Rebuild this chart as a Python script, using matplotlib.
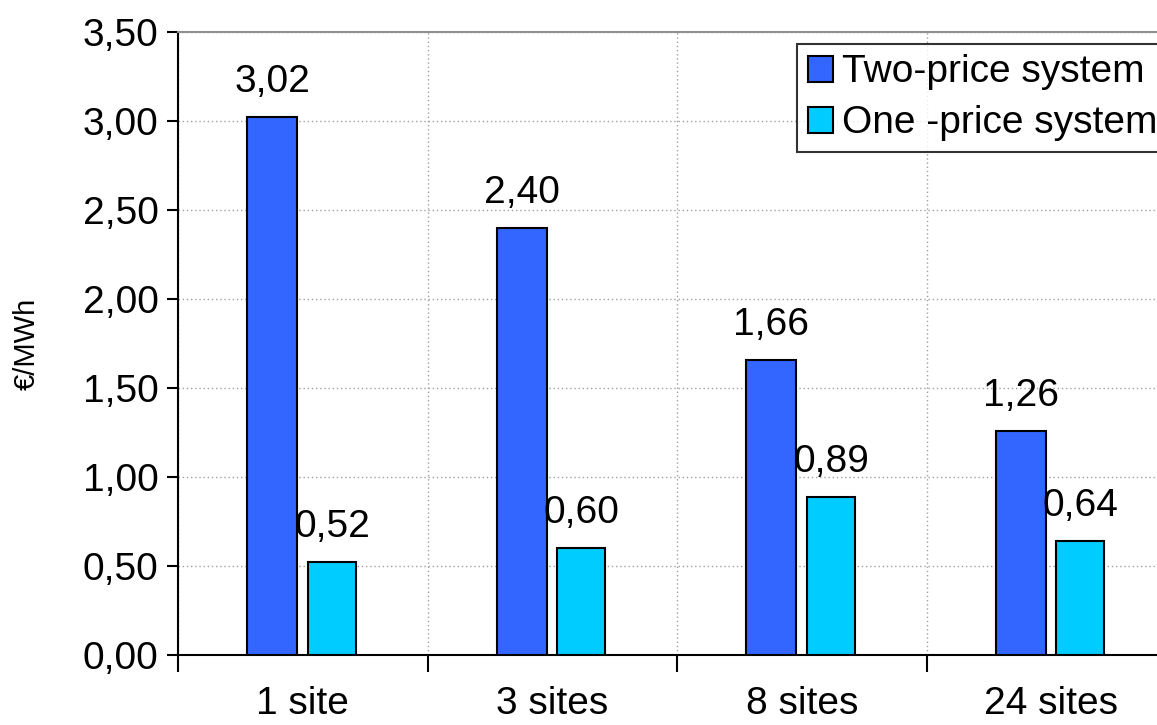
import matplotlib
matplotlib.use("Agg")
import matplotlib.pyplot as plt
from matplotlib.ticker import FixedLocator, FuncFormatter
import numpy as np

categories = ["1 site", "3 sites", "8 sites", "24 sites"]
two_price = [3.02, 2.40, 1.66, 1.26]
one_price = [0.52, 0.60, 0.89, 0.64]
series_names = ["Two-price system", "One -price system"]

plt.rcParams['font.family'] = ['Liberation Sans', 'DejaVu Sans']
FS = 28

fig = plt.figure(figsize=(11.57, 7.25), dpi=100)
ax = fig.add_axes([178/1157, 70/725, 1 - 178/1157, (655-32)/725])

x = np.arange(len(categories))
w = 0.2
b1 = ax.bar(x - 0.122, two_price, w, color="#3366FF", edgecolor="black", linewidth=1.5, label=series_names[0], zorder=3)
b2 = ax.bar(x + 0.117, one_price, w * 0.96, color="#00CCFF", edgecolor="black", linewidth=1.5, label=series_names[1], zorder=3)

fmt = lambda v: f"{v:.2f}".replace(".", ",")
for bars, vals in ((b1, two_price), (b2, one_price)):
    for r, v in zip(bars, vals):
        ax.annotate(fmt(v), (r.get_x() + r.get_width()/2, v), xytext=(0, 18),
                    textcoords="offset points", ha="center", va="baseline", fontsize=FS)

ax.set_xlim(-0.5, -0.5 + (1157-178)/249.5)
ax.set_ylim(0, 3.5)
ax.set_yticks(np.arange(0, 3.51, 0.5))
ax.yaxis.set_major_formatter(FuncFormatter(lambda v, p: fmt(v)))
ax.tick_params(axis="y", labelsize=FS, length=8, width=1.5, direction="out", pad=6)

bounds = np.arange(-0.5, len(categories), 1.0)
ax.xaxis.set_major_locator(FixedLocator(bounds))
ax.xaxis.set_minor_locator(FixedLocator(x))
ax.set_xticklabels([], minor=False)
ax.set_xticklabels(categories, minor=True)
ax.tick_params(axis="x", which="major", length=12, width=1.5, direction="out")
ax.tick_params(axis="x", which="minor", length=0, labelsize=FS, pad=22)

ax.grid(axis="y", linestyle=(0, (1, 2)), color="#A0A0A0", linewidth=1, zorder=0)
ax.grid(axis="x", which="major", linestyle=(0, (1, 2)), color="#A0A0A0", linewidth=1, zorder=0)

for s in ("left", "bottom"):
    ax.spines[s].set_linewidth(1.5)
    ax.spines[s].set_color("black")
ax.spines["top"].set_color("#909090")
ax.spines["top"].set_linewidth(1.5)
ax.spines["right"].set_visible(False)

ax.set_ylabel("€/MWh", fontsize=21, labelpad=30)

leg = ax.legend(loc="upper left", bbox_to_anchor=((797-178)/979, 1 - 12/623), fontsize=FS,
                frameon=True, fancybox=False, edgecolor="black", handlelength=0.65,
                handleheight=0.65, handletextpad=0.25, borderpad=0.27, labelspacing=0.38,
                borderaxespad=0)
leg.get_frame().set_linewidth(1.5)

fig.savefig("out.png", dpi=100)
